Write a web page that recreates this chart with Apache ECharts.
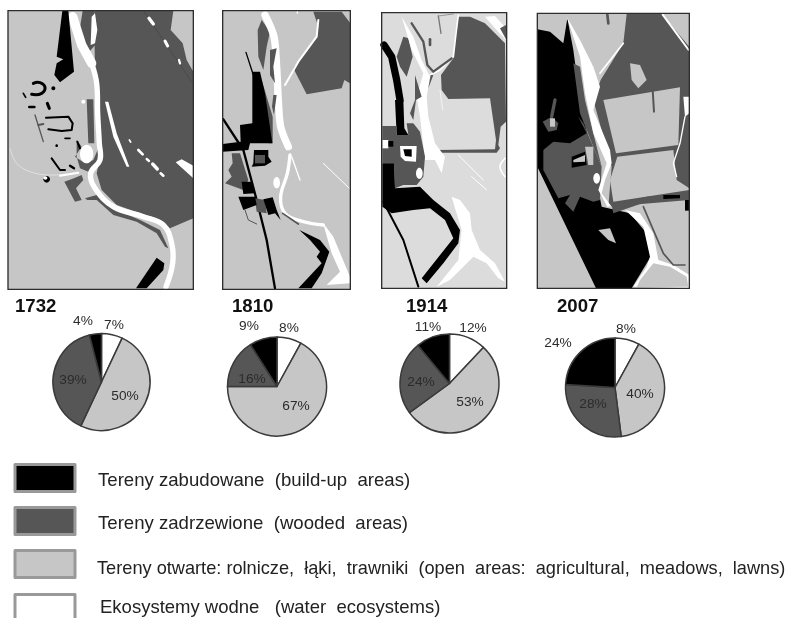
<!DOCTYPE html>
<html>
<head>
<meta charset="utf-8">
<title>Land use 1732-2007</title>
<style>html,body{margin:0;padding:0;background:#fff}#chart{width:790px;height:618px}</style>
<script src="https://cdn.jsdelivr.net/npm/echarts@6/dist/echarts.min.js"></script>
</head>
<body>
<div id="chart"></div>
<script>
const years = ['1732', '1810', '1914', '2007']
const categories = [
  'Tereny zabudowane  (build-up  areas)',
  'Tereny zadrzewione  (wooded  areas)',
  'Tereny otwarte: rolnicze,  łąki,  trawniki  (open  areas:  agricultural,  meadows,  lawns)',
  'Ekosystemy wodne   (water  ecosystems)'
]
// slice order follows the picture, clockwise from the top: water, open, wooded, built-up
const sliceOrder = [3, 2, 1, 0]
const built = [4, 9, 11, 24]
const wooded = [39, 16, 24, 28]
const open = [50, 67, 53, 40]
const water = [7, 8, 12, 8]

const BLACK = '#000', WOOD = '#565656', LIGHT = '#c6c6c6', WHITE = '#fff'
const colors = [BLACK, WOOD, LIGHT, WHITE]

// pie geometry: centre x, centre y, radius
const pieBox = [[101.5, 382, 48.5], [277, 386.5, 49.5], [449.5, 383.5, 49.5], [615, 387.5, 49.5]]
// label centres per pie, same order as sliceOrder
const pieLabels = [
  [[114, 325], [125, 396], [73, 380], [83, 321]],
  [[289, 328], [296, 406], [252, 379], [249, 326]],
  [[473, 328], [470, 402], [421, 382], [428, 327]],
  [[626, 329], [640, 394], [593, 404], [558, 343]]
]
const titlePos = [[15, 307], [232, 307], [406, 307], [557, 307]]

// map sketches, drawn in 3x coordinates, p polygon, l line, e ellipse
const map1732 = { x: 0, y: 0, frame: [24, 32, 556, 836], bg: LIGHT, shapes: [
  ['p', WOOD, [[283,32],[520,32],[512,90],[548,130],[560,180],[580,215],[580,655],[510,685],[470,655],[420,640],[350,615],[305,570],[290,520],[300,470],[300,340],[295,250],[285,200],[283,100]]],
  ['p', WOOD, [[255,595],[290,585],[350,630],[420,660],[480,690],[505,745],[495,740],[470,700],[410,665],[340,645],[290,600],[262,600]]],
  ['p', WOOD, [[248,32],[283,32],[290,130],[268,155],[250,130],[238,95]]],
  ['p', WOOD, [[260,298],[280,298],[283,430],[265,430]]],
  ['p', WOOD, [[230,420],[245,440],[225,470],[255,490],[280,480],[295,445],[328,455],[325,470],[300,478],[290,495],[265,515],[240,505],[230,470]]],
  ['p', WOOD, [[193,545],[222,535],[245,525],[250,540],[228,565],[245,600],[225,605]]],
  ['l', WOOD, 4, [[105,345],[130,425]]],
  ['l', WOOD, 6, [[115,375],[130,372]]],
  ['l', '#4a4a4a', 3, [[430,32],[578,250]]],
  ['l', WHITE, 28, [[218,50],[245,135],[275,190]]],
  ['l', WHITE, 16, [[275,190],[290,250],[293,340],[298,430],[300,480],[272,520],[285,565],[340,620],[430,650],[490,675],[515,730],[518,790],[498,860]], 0.4],
  ['p', WHITE, [[275,50],[285,40],[292,90],[285,130],[272,135]]],
  ['p', WHITE, [[315,305],[325,305],[350,400],[388,500],[380,500],[340,410]]],
  ['l', WHITE, 10, [[447,55],[460,72]]],
  ['l', WHITE, 9, [[495,123],[503,138]]],
  ['l', WHITE, 7, [[537,180],[540,190]]],
  ['l', WHITE, 5, [[388,420],[392,426]]],
  ['l', WHITE, 8, [[415,450],[428,463]]],
  ['l', WHITE, 7, [[440,477],[447,483]]],
  ['l', WHITE, 10, [[458,492],[472,507]]],
  ['l', WHITE, 8, [[482,520],[490,527]]],
  ['p', WHITE, [[527,487],[545,478],[580,497],[580,535]]],
  ['e', WHITE, 260, 462, 20, 28],
  ['e', WHITE, 250, 305, 6, 6],
  ['l', '#e0e0e0', 3, [[30,445],[50,490],[90,515],[150,525],[230,518]], 0.4],
  ['l', WHITE, 6, [[180,527],[235,518]]],
  ['p', BLACK, [[187,32],[205,32],[222,215],[180,247],[163,225],[170,190],[190,178],[170,170]]],
  ['p', BLACK, [[470,773],[493,790],[490,810],[440,865],[408,865]]],
  ['l', BLACK, 9, [[95,283],[125,280],[135,262],[120,248],[100,250]], 0.5],
  ['e', BLACK, 160, 265, 6, 6],
  ['l', BLACK, 5, [[70,280],[77,292]]],
  ['l', BLACK, 8, [[88,321],[103,321]]],
  ['l', BLACK, 9, [[142,310],[148,325]]],
  ['l', BLACK, 6, [[138,353],[205,350],[218,370],[215,390],[185,393],[145,388]]],
  ['l', BLACK, 5, [[195,415],[210,415]]],
  ['e', BLACK, 170, 437, 4, 4],
  ['l', BLACK, 6, [[155,475],[180,510],[195,510]]],
  ['l', BLACK, 7, [[210,497],[222,505]]],
  ['l', BLACK, 6, [[232,425],[240,445]]],
  ['e', BLACK, 140, 538, 10, 10],
  ['e', WHITE, 136, 534, 6, 5]
] }

const map1810 = { x: 210, y: 0, frame: [38, 32, 383, 836], bg: LIGHT, shapes: [
  ['p', WOOD, [[310,35],[395,35],[420,68],[420,250],[403,240],[395,265],[290,283],[250,205],[320,110],[325,80]]],
  ['p', WOOD, [[155,60],[180,95],[170,140],[160,210],[145,170],[143,90]]],
  ['p', WOOD, [[155,240],[188,350],[188,430],[175,430]]],
  ['l', WHITE, 22, [[165,45],[192,110],[200,200],[205,300],[212,380],[235,440]], 0.3],
  ['l', WHITE, 10, [[240,465],[232,520],[212,590],[225,640],[280,665],[340,675]], 0.4],
  ['p', WHITE, [[340,670],[370,710],[395,770],[420,830],[420,850],[350,855],[390,815],[365,760],[345,690]]],
  ['l', WHITE, 6, [[325,60],[320,110],[265,185],[225,255]]],
  ['l', WHITE, 4, [[245,470],[270,540]]],
  ['l', WHITE, 3, [[340,490],[418,565]]],
  ['l', WHITE, 4, [[262,33],[262,40]]],
  ['p', WOOD, [[180,150],[200,145],[190,200],[195,250],[180,225]]],
  ['p', WOOD, [[190,285],[200,285],[192,345],[186,320]]],
  ['e', WHITE, 200, 548, 10, 17],
  ['l', BLACK, 4, [[108,157],[130,225]]],
  ['p', BLACK, [[127,215],[150,215],[165,280],[187,430],[120,430],[115,450],[38,455],[38,432],[92,425],[90,375],[127,370]]],
  ['p', WOOD, [[65,460],[90,460],[115,540],[100,570],[45,550],[65,530],[55,510],[68,490]]],
  ['l', BLACK, 7, [[40,358],[100,450],[140,600],[170,720],[195,865]]],
  ['p', BLACK, [[132,450],[175,450],[175,470],[185,485],[165,497],[125,500],[130,490]]],
  ['p', WOOD, [[135,465],[165,465],[165,490],[135,490]]],
  ['p', BLACK, [[95,545],[125,545],[135,580],[100,582]]],
  ['p', WOOD, [[135,595],[165,600],[170,640],[140,635]]],
  ['p', BLACK, [[85,590],[135,590],[140,615],[100,630]]],
  ['p', BLACK, [[160,598],[188,592],[200,630],[212,660],[195,640],[175,645]]],
  ['l', WOOD, 3, [[105,630],[115,660],[140,672]]],
  ['l', WOOD, 5, [[218,640],[265,672]]],
  ['p', BLACK, [[268,690],[330,720],[358,755],[335,820],[305,865],[265,865],[335,790],[320,770],[330,755],[300,720]]]
] }

const map1914 = { x: 370, y: 0, frame: [35, 38, 375, 827], bg: '#dcdcdc', shapes: [
  ['p', WOOD, [[265,50],[300,50],[345,70],[405,130],[408,365],[392,380],[385,435],[390,445],[380,458],[200,458],[200,450],[375,448],[378,420],[360,295],[235,297],[215,270],[213,225],[250,175],[258,90]]],
  ['p', WHITE, [[345,50],[375,48],[408,85],[408,120],[380,90]]],
  ['p', WOOD, [[390,85],[408,75],[408,118]]],
  ['p', WOOD, [[100,110],[115,115],[128,170],[110,230],[90,200],[80,170]]],
  ['p', WHITE, [[95,50],[130,110],[155,180],[180,230],[170,290],[175,350],[195,430],[225,470],[215,520],[195,480],[165,480],[150,350],[140,290],[160,220],[125,150]]],
  ['l', WHITE, 5, [[265,45],[258,100],[250,170],[210,210],[180,225]]],
  ['l', WOOD, 7, [[125,70],[160,125],[172,195],[190,215],[245,175]]],
  ['l', WOOD, 8, [[180,118],[180,135]]],
  ['l', '#777', 2, [[205,48],[250,42]]],
  ['l', '#777', 4, [[205,48],[213,100]]],
  ['p', WOOD, [[135,225],[155,290],[138,300],[130,360],[120,340],[135,300]]],
  ['p', WOOD, [[190,225],[175,265],[182,225]]],
  ['l', BLACK, 22, [[42,135],[65,170],[80,240],[90,300]]],
  ['p', BLACK, [[75,300],[100,300],[103,385],[115,405],[80,405]]],
  ['p', WOOD, [[37,378],[80,378],[80,405],[115,405],[110,370],[130,370],[150,395],[165,470],[160,530],[140,555],[100,555],[75,565],[72,490],[37,490]]],
  ['p', WHITE, [[37,420],[55,420],[55,445],[37,445]]],
  ['p', BLACK, [[55,423],[70,423],[70,440],[55,440]]],
  ['p', WHITE, [[90,438],[140,438],[138,485],[105,483],[92,470]]],
  ['p', BLACK, [[100,448],[125,448],[125,470],[105,468]]],
  ['e', WHITE, 148, 520, 10, 17],
  ['p', BLACK, [[37,490],[72,490],[75,565],[150,560],[190,600],[240,640],[270,690],[265,730],[220,790],[170,850],[155,835],[250,715],[225,660],[180,625],[130,630],[65,640],[37,620]]],
  ['l', BLACK, 6, [[40,605],[100,720],[145,860]]],
  ['p', WHITE, [[245,590],[270,600],[300,640],[305,690],[330,750],[375,790],[405,845],[385,835],[350,790],[310,770],[240,840],[200,860],[265,780],[275,690],[255,625]]],
  ['l', WHITE, 3, [[265,465],[340,540]]],
  ['l', WHITE, 3, [[305,530],[350,570]]],
  ['l', WHITE, 5, [[405,475],[390,500],[405,530]], 0.4],
  ['l', WHITE, 2, [[210,270],[218,330]]]
] }

const map2007 = { x: 530, y: 0, frame: [22, 40, 456, 825], bg: LIGHT, shapes: [
  ['p', BLACK, [[22,88],[60,95],[100,130],[112,55],[130,150],[150,300],[180,440],[215,620],[300,640],[350,700],[362,770],[305,865],[198,865],[22,500]]],
  ['p', WOOD, [[40,450],[70,425],[120,430],[170,400],[145,350],[160,370],[215,500],[210,600],[190,605],[150,590],[130,635],[105,610],[120,585],[85,595],[40,510]]],
  ['p', WOOD, [[130,190],[150,200],[165,300],[215,500],[190,440],[150,340]]],
  ['p', WOOD, [[38,365],[65,350],[85,370],[80,390],[55,395]]],
  ['l', WOOD, 10, [[65,350],[75,300]]],
  ['p', LIGHT, [[60,355],[75,355],[75,380],[60,380]]],
  ['p', LIGHT, [[165,440],[190,440],[190,495],[175,495]]],
  ['p', BLACK, [[125,470],[165,455],[170,495],[125,503]]],
  ['p', LIGHT, [[130,480],[165,465],[165,485],[130,487]]],
  ['p', LIGHT, [[205,690],[240,685],[258,730],[235,720]]],
  ['p', WOOD, [[212,240],[280,130],[290,42],[395,42],[478,140],[478,600],[235,620],[245,500],[190,300]]],
  ['l', WOOD, 8, [[232,44],[235,70]]],
  ['p', LIGHT, [[220,300],[450,262],[445,435],[258,460]]],
  ['p', LIGHT, [[262,470],[430,450],[440,540],[478,565],[478,570],[250,605],[240,540]]],
  ['p', LIGHT, [[300,190],[330,195],[350,240],[325,265],[305,240]]],
  ['l', WOOD, 6, [[368,270],[372,335]]],
  ['p', WHITE, [[110,50],[150,120],[190,200],[210,260],[190,330],[240,450],[245,490],[225,540],[215,580],[245,620],[232,620],[205,570],[230,490],[190,400],[165,280],[150,170]]],
  ['l', WHITE, 5, [[280,130],[210,220]]],
  ['l', WHITE, 6, [[398,44],[476,150]]],
  ['p', WHITE, [[460,290],[478,290],[478,340],[465,350]]],
  ['l', WHITE, 4, [[465,350],[450,430],[430,490],[440,530]]],
  ['e', WHITE, 200, 535, 10, 16],
  ['p', WOOD, [[245,615],[350,590],[478,580],[478,595],[350,605],[250,640]]],
  ['p', BLACK, [[400,585],[450,585],[450,595],[400,597]]],
  ['p', BLACK, [[465,600],[478,600],[478,632],[465,632]]],
  ['p', WHITE, [[285,630],[330,640],[370,700],[385,780],[430,795],[478,825],[478,865],[310,860],[350,800],[360,770],[340,680]]],
  ['p', LIGHT, [[330,840],[370,790],[420,800],[470,830],[475,860],[320,862]]],
  ['l', WOOD, 5, [[340,620],[400,760],[430,795],[465,795]]]
] }
const maps = [map1732, map1810, map1914, map2007]

const legendTop = [463, 506, 549, 593]
const legendFontSize = [18.6, 18.6, 18.2, 18.5]
const legendTextGap = [18, 18, 17, 20]
const legendTextDrop = [3, 3, 4, 0]

const LABEL_COLOR = '#2b2b2b'

function shapeToGraphic(s) {
  if (s[0] === 'p') return { type: 'polygon', shape: { points: s[2] }, style: { fill: s[1] } }
  if (s[0] === 'l') return { type: 'polyline', shape: { points: s[3], smooth: s[4] || 0 }, style: { stroke: s[1], lineWidth: s[2], fill: null, lineCap: 'round', lineJoin: 'round' } }
  return { type: 'ellipse', shape: { cx: s[2], cy: s[3], rx: s[4], ry: s[5] }, style: { fill: s[1] } }
}

function mapGraphic(m) {
  const f = m.frame
  const box = { x: f[0], y: f[1], width: f[2], height: f[3] }
  return {
    type: 'group',
    x: m.x,
    y: m.y,
    scaleX: 1 / 3,
    scaleY: 1 / 3,
    silent: true,
    children: [{ type: 'rect', shape: box, style: { fill: m.bg } }]
      .concat(m.shapes.map(shapeToGraphic))
      .concat([{ type: 'rect', shape: box, style: { fill: null, stroke: '#2e2e2e', lineWidth: 4 } }])
  }
}

const pieSeries = years.map((y, i) => {
  const rows = [built[i], wooded[i], open[i], water[i]]
  return {
    type: 'pie',
    name: y,
    center: [pieBox[i][0], pieBox[i][1]],
    radius: [0, pieBox[i][2]],
    startAngle: 90,
    clockwise: true,
    avoidLabelOverlap: false,
    animation: false,
    silent: true,
    itemStyle: { borderColor: '#3a3a3a', borderWidth: 1.5 },
    label: {
      position: 'inside',
      formatter: '{c}%',
      fontFamily: 'Liberation Sans',
      fontSize: 13.7,
      color: LABEL_COLOR,
      textBorderWidth: 0
    },
    labelLine: { show: false },
    labelLayout: p => ({
      x: pieLabels[i][p.dataIndex][0],
      y: pieLabels[i][p.dataIndex][1],
      align: 'center',
      verticalAlign: 'middle'
    }),
    data: sliceOrder.map(k => ({ name: categories[k], value: rows[k], itemStyle: { color: colors[k] } }))
  }
})

const legends = categories.map((name, i) => ({
  data: [name],
  left: 13.5,
  top: legendTop[i],
  padding: 0,
  icon: 'rect',
  itemWidth: 60,
  itemHeight: 27,
  selectedMode: false,
  itemStyle: { borderColor: '#999', borderWidth: 3 },
  formatter: '{t|{name}}',
  textStyle: {
    padding: [0, 0, 0, legendTextGap[i]],
    rich: {
      t: {
        fontFamily: 'Liberation Sans',
        fontSize: legendFontSize[i],
        color: '#222',
        lineHeight: 19 + 2 * legendTextDrop[i],
        verticalAlign: 'bottom'
      }
    }
  }
}))

const titles = years.map((y, i) => ({
  type: 'text',
  x: titlePos[i][0],
  y: titlePos[i][1],
  style: { text: y, fontFamily: 'Liberation Sans', fontWeight: 'bold', fontSize: 18.6, fill: '#111', verticalAlign: 'middle' }
}))

const chart = echarts.init(document.getElementById('chart'))
chart.setOption({
  backgroundColor: '#fff',
  animation: false,
  legend: legends,
  graphic: maps.map(mapGraphic).concat(titles),
  series: pieSeries
})
window.addEventListener('resize', chart.resize)
</script>
</body>
</html>
